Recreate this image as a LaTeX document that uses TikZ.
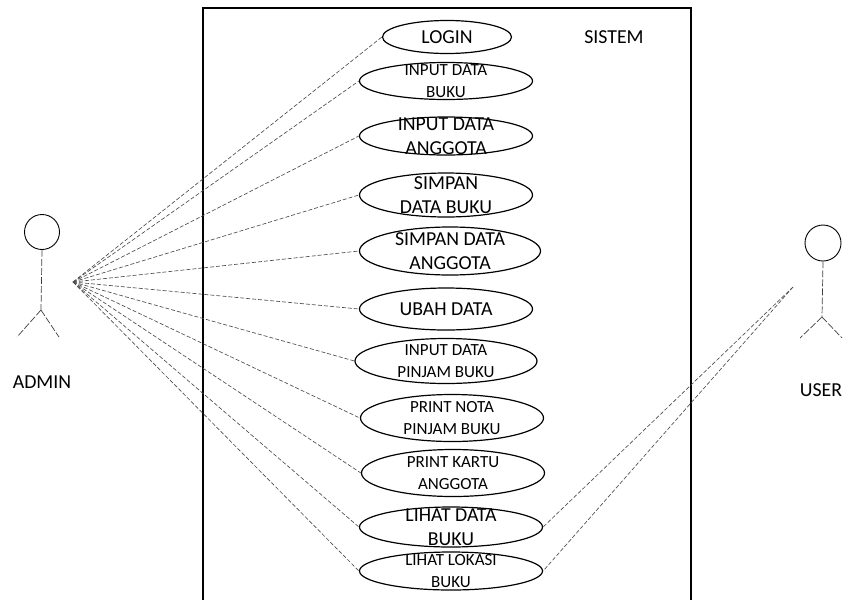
\documentclass[tikz,border=0pt]{standalone}
\usepackage{fontspec}
\setmainfont{Carlito}
\usetikzlibrary{shapes.geometric}
\tikzset{
  uc/.style 2 args={shape=ellipse,draw,line width=1.2pt,inner sep=0pt,minimum width=#1,minimum height=#2},
  bigtxt/.style={font=\fontsize{19.8pt}{24pt}\selectfont,align=center},
  smalltxt/.style={font=\fontsize{17pt}{21.5pt}\selectfont,align=center},
  assoc/.style={draw=black!70,line width=0.65pt,dash pattern=on 4pt off 2pt},
  limb/.style={draw=black!75,line width=0.7pt,dash pattern=on 7pt off 2pt}
}
\begin{document}
\begin{tikzpicture}[x=1pt,y=-1pt]
  \useasboundingbox (0,0) rectangle (845,600);
  % system boundary
  \draw[line width=2pt] (203,600) -- (203,8) -- (691,8) -- (691,600);
  \node[bigtxt] (sistem) at (614,37) {SISTEM};
  % use cases
  \node [uc={129pt}{33pt},label={[bigtxt]center:LOGIN}] (login) at (447,37) {};
  \node [uc={173pt}{37pt},label={[smalltxt]center:{INPUT DATA\\BUKU}}] (inbuku) at (446,81) {};
  \node [uc={173pt}{38pt},label={[bigtxt]center:{INPUT DATA\\ANGGOTA}}] (inagt) at (446,136) {};
  \node [uc={173pt}{44pt},label={[bigtxt]center:{SIMPAN\\DATA BUKU}}] (smbuku) at (446,195) {};
  \node [uc={181pt}{48pt},label={[bigtxt]center:{SIMPAN DATA\\ANGGOTA}}] (smagt) at (450,251) {};
  \node [uc={173pt}{42pt},label={[bigtxt]center:UBAH DATA}] (ubah) at (446,309) {};
  \node [uc={182pt}{45pt},label={[smalltxt]center:{INPUT DATA\\PINJAM BUKU}}] (pinjam) at (446,361) {};
  \node [uc={183pt}{47pt},label={[smalltxt]center:{PRINT NOTA\\PINJAM BUKU}}] (nota) at (452,418) {};
  \node [uc={183pt}{47pt},label={[smalltxt]center:{PRINT KARTU\\ANGGOTA}}] (kartu) at (453,473) {};
  \node [uc={183pt}{40pt},label={[bigtxt]center:{LIHAT DATA\\BUKU}}] (lihat) at (451,527) {};
  \node [uc={183pt}{38pt},label={[smalltxt]center:{LIHAT LOKASI\\BUKU}}] (lokasi) at (451,571) {};
  % actors
  \node [shape=circle,draw,line width=0.9pt,minimum size=35pt,inner sep=0pt] (ahead) at (42,232) {};
  \coordinate (ahip) at (41,310);
  \draw[limb] (ahead.south) -- (ahip) (ahip) -- (17,337) (ahip) -- (59,337);
  \node[bigtxt] (admin) at (42,382) {ADMIN};
  \node [shape=circle,draw,line width=0.9pt,minimum size=36pt,inner sep=0pt] (uhead) at (823,243) {};
  \coordinate (uhip) at (822,317);
  \draw[limb] (uhead.south) -- (uhip) (uhip) -- (800,338) (uhip) -- (842,338);
  \node[bigtxt] (user) at (821,390) {USER};
  \coordinate (adm) at (73,282);
  \coordinate (usr) at (793,287);
  \path[assoc] (adm) edge (login.west) (adm) edge (inbuku.west) (adm) edge (inagt.west)
    (adm) edge (smbuku.west) (adm) edge (smagt.west) (adm) edge (ubah.west)
    (adm) edge (pinjam.west) (adm) edge (nota.west) (adm) edge (kartu.west)
    (adm) edge (lihat.west) (adm) edge (lokasi.west);
  \path[assoc] (usr) edge (lihat.east) (usr) edge (lokasi.east);
\end{tikzpicture}
\end{document}
